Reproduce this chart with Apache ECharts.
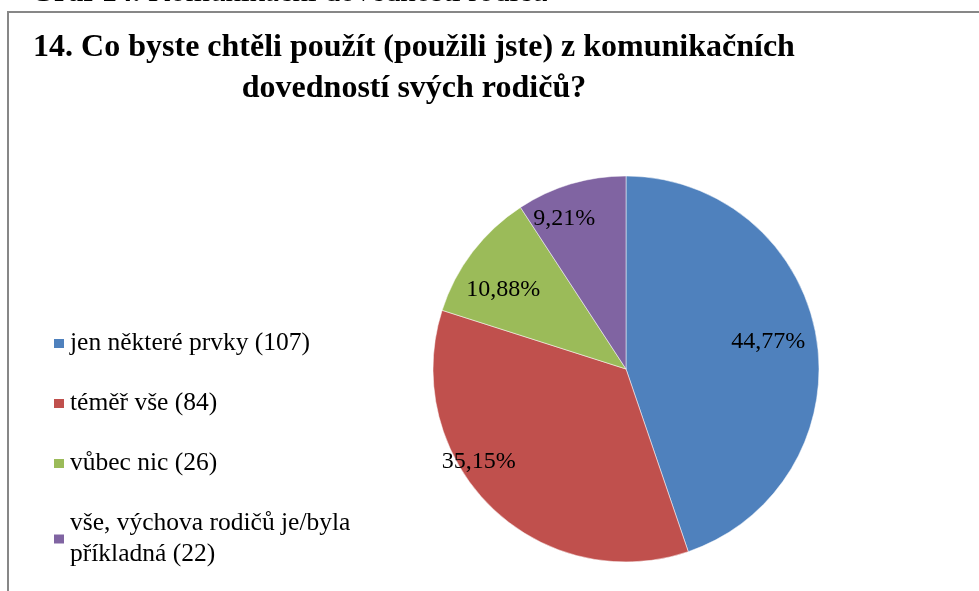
<!DOCTYPE html>
<html>
<head>
<meta charset="utf-8">
<script src="https://cdn.jsdelivr.net/npm/echarts@6/dist/echarts.min.js"></script>
<style>
html, body { margin: 0; padding: 0; background: #fff; }
#chart { width: 979px; height: 591px; }
</style>
</head>
<body>
<div id="chart"></div>
<script>
var categories = ['jen některé prvky', 'téměř vše', 'vůbec nic', 'vše, výchova rodičů je/byla příkladná']
var counts = [107, 84, 26, 22]
var colors = ['#4F81BD', '#C0504D', '#9BBB59', '#8064A2']
// moves the percent labels towards where Excel put them
var labelNudge = [[-16, -1], [-35, -22], [5, 18], [-16, 4]]

var serif = '"Liberation Serif", serif'
var total = counts.reduce(function (a, b) { return a + b }, 0)

var chart = echarts.init(document.getElementById('chart'))
chart.setOption({
  backgroundColor: '#fff',
  animation: false,
  textStyle: { fontFamily: serif },
  title: {
    text: '14. Co byste chtěli použít (použili jste) z komunikačních\ndovedností svých rodičů?',
    left: 414,
    top: 27,
    padding: 0,
    textAlign: 'center',
    textStyle: {
      fontFamily: serif,
      fontSize: 32,
      fontWeight: 'bold',
      color: '#000',
      lineHeight: 41
    }
  },
  legend: {
    orient: 'vertical',
    left: 52,
    top: 328,
    padding: 0,
    icon: 'rect',
    itemWidth: 12,
    itemHeight: 11,
    itemGap: 29,
    data: categories,
    formatter: function (name) {
      var i = categories.indexOf(name)
      return name.replace('je/byla ', 'je/byla\n') + ' (' + counts[i] + ')'
    },
    textStyle: {
      fontFamily: serif,
      fontSize: 25.5,
      color: '#000',
      lineHeight: 31
    }
  },
  graphic: [
    {
      type: 'rect',
      shape: { x: 8, y: 12, width: 1000, height: 700 },
      style: { fill: null, stroke: '#878787', lineWidth: 2 },
      silent: true
    },
    {
      type: 'text',
      x: 30,
      y: 8,
      style: {
        text: '{b|Graf 14.} Komunikační dovednosti rodičů',
        fontFamily: serif,
        fontSize: 31,
        fill: '#000',
        verticalAlign: 'bottom',
        rich: { b: { fontWeight: 'bold', fontFamily: serif, fontSize: 31 } }
      },
      silent: true
    }
  ],
  series: [
    {
      type: 'pie',
      center: [626, 369],
      radius: 193,
      startAngle: 90,
      clockwise: true,
      label: { show: false },
      labelLine: { show: false },
      itemStyle: { borderColor: '#fff', borderWidth: 0.5 },
      emphasis: { disabled: true },
      data: categories.map(function (name, i) {
        return { name: name, value: counts[i], itemStyle: { color: colors[i] } }
      })
    },
    {
      type: 'pie',
      center: [626, 369],
      radius: [122, 193],
      startAngle: 90,
      clockwise: true,
      silent: true,
      itemStyle: { color: 'rgba(0,0,0,0)' },
      label: {
        show: true,
        position: 'inside',
        fontFamily: serif,
        fontSize: 24,
        color: '#000',
        formatter: function (p) {
          return (p.value / total * 100).toFixed(2).replace('.', ',') + '%'
        }
      },
      labelLayout: function (params) {
        var n = labelNudge[params.dataIndex]
        return { dx: n[0], dy: n[1] }
      },
      labelLine: { show: false },
      emphasis: { disabled: true },
      data: categories.map(function (name, i) {
        return { name: name, value: counts[i] }
      })
    }
  ]
})
</script>
</body>
</html>
